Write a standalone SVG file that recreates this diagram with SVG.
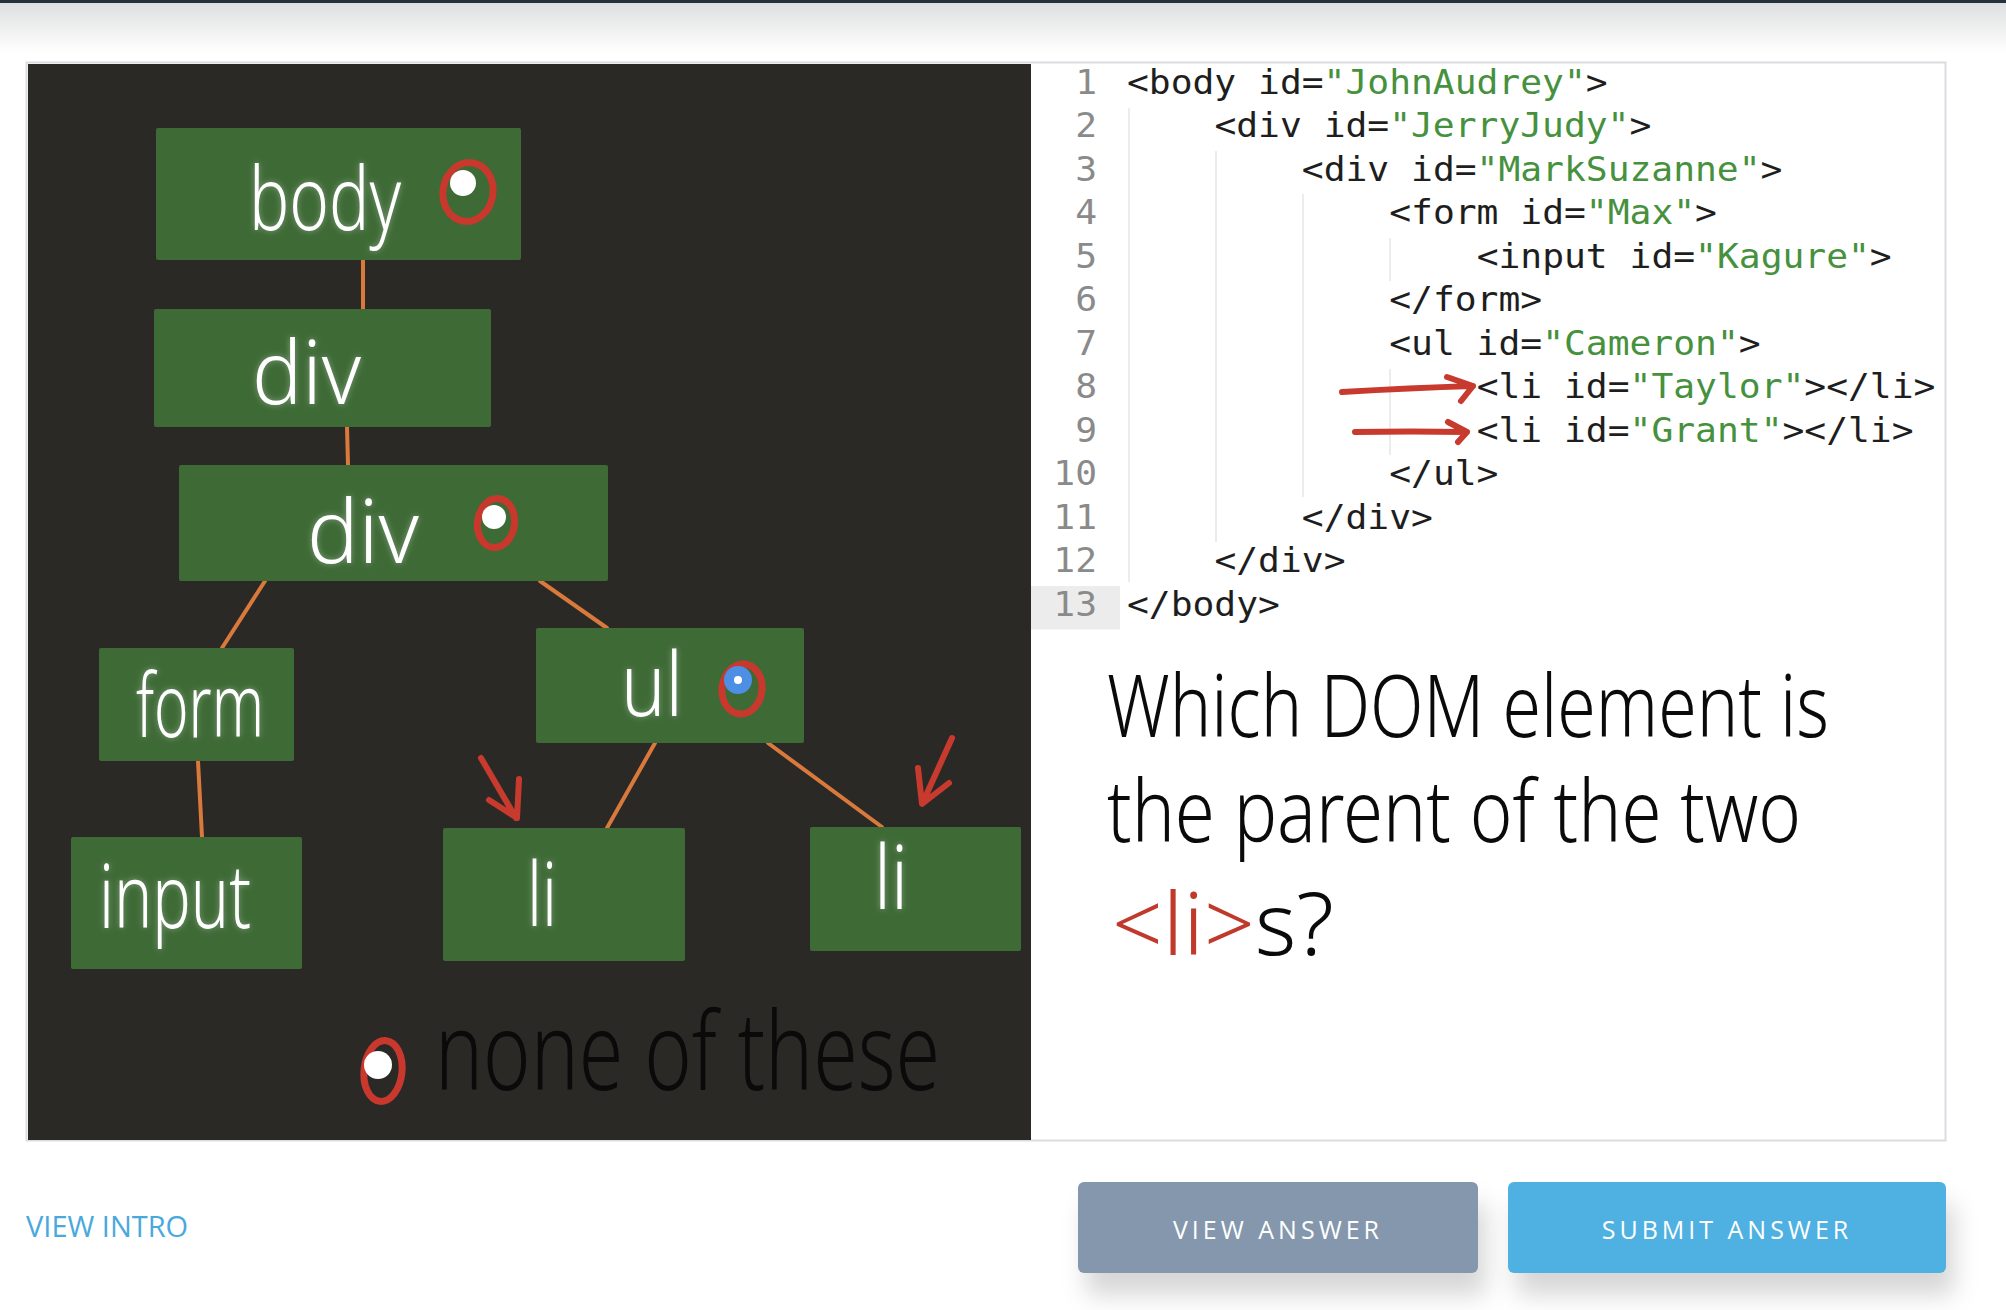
<svg xmlns="http://www.w3.org/2000/svg" width="2006" height="1310" viewBox="0 0 2006 1310">
  <defs>
    <linearGradient id="hdr" x1="0" y1="0" x2="0" y2="1">
      <stop offset="0" stop-color="#dedfe0"/>
      <stop offset="1" stop-color="#ffffff"/>
    </linearGradient>
    <filter id="glow" x="-20%" y="-20%" width="140%" height="140%">
      <feGaussianBlur in="SourceAlpha" stdDeviation="3" result="b"/>
      <feFlood flood-color="#ffffff" flood-opacity="0.35"/>
      <feComposite in2="b" operator="in" result="g"/>
      <feMerge><feMergeNode in="g"/><feMergeNode in="SourceGraphic"/></feMerge>
    </filter>
    <filter id="btnshadow" x="-10%" y="-20%" width="125%" height="190%">
      <feDropShadow dx="8" dy="22" stdDeviation="12" flood-color="#000" flood-opacity="0.16"/>
    </filter>
  </defs>
  <style>
    .box { fill: #3e6a36; }
    .conn { stroke: #d9793c; stroke-width: 4; fill: none; stroke-linecap: round; }
    .hand { font-family: "Noto Sans", "DejaVu Sans", sans-serif; font-weight: 300; }
    .lbl { fill: #ffffff; font-size: 88px; }
    .ring { fill: none; stroke: #c9382d; stroke-width: 7; }
    .dot { fill: #ffffff; }
    .redpen { stroke: #c83a2e; stroke-width: 6; fill: none; stroke-linecap: round; stroke-linejoin: round; }
    .code { font-family: "DejaVu Sans Mono", "Liberation Mono", monospace; font-size: 33px; fill: #1e1e1e; }
    .str { fill: #46913d; }
    .num { font-family: "DejaVu Sans Mono", "Liberation Mono", monospace; font-size: 33px; fill: #8a8a8a; text-anchor: end; }
    .guide { stroke: #e6e6e6; stroke-width: 1.5; }
    .btntxt { font-family: "Open Sans", "Liberation Sans", sans-serif; font-size: 25px; fill: #ffffff; letter-spacing: 4px; text-anchor: middle; }
  </style>

  <!-- page background -->
  <rect x="0" y="0" width="2006" height="1310" fill="#ffffff"/>
  <rect x="0" y="3" width="2006" height="50" fill="url(#hdr)"/>
  <rect x="0" y="0" width="2006" height="3" fill="#26313b"/>

  <!-- panels -->
  <rect x="26.5" y="62.5" width="1919" height="1078" fill="#ffffff" stroke="#d9dde1" stroke-width="2"/>
  <rect x="28" y="64" width="1003" height="1076" fill="#2b2926"/>

  <!-- connectors -->
  <g id="connectors">
    <line class="conn" x1="363" y1="260" x2="363" y2="309"/>
    <line class="conn" x1="347" y1="427" x2="348" y2="465"/>
    <line class="conn" x1="265" y1="581" x2="222" y2="648"/>
    <line class="conn" x1="540" y1="581" x2="607" y2="628"/>
    <line class="conn" x1="198" y1="761" x2="202" y2="837"/>
    <line class="conn" x1="655" y1="743" x2="607" y2="828"/>
    <line class="conn" x1="768" y1="743" x2="882" y2="827"/>
  </g>

  <!-- nodes -->
  <g id="node-body">
    <rect class="box" x="156" y="128" width="365" height="132" rx="2"/>
    <text class="hand lbl" x="249" y="230" textLength="152" lengthAdjust="spacingAndGlyphs" filter="url(#glow)">body</text>
    <ellipse class="ring" cx="468" cy="192" rx="25" ry="29.5" transform="rotate(10 468 192)"/>
    <circle class="dot" cx="463" cy="183" r="13"/>
  </g>
  <g id="node-div1">
    <rect class="box" x="154" y="309" width="337" height="118" rx="2"/>
    <text class="hand lbl" x="252" y="404" textLength="109" lengthAdjust="spacingAndGlyphs" filter="url(#glow)">div</text>
  </g>
  <g id="node-div2">
    <rect class="box" x="179" y="465" width="429" height="116" rx="2"/>
    <text class="hand lbl" x="307" y="563" textLength="112" lengthAdjust="spacingAndGlyphs" filter="url(#glow)">div</text>
    <ellipse class="ring" cx="496" cy="523" rx="18.5" ry="24.5" transform="rotate(8 496 523)"/>
    <circle class="dot" cx="494" cy="517" r="12"/>
  </g>
  <g id="node-form">
    <rect class="box" x="99" y="648" width="195" height="113" rx="2"/>
    <text class="hand lbl" x="136" y="737" textLength="128" lengthAdjust="spacingAndGlyphs" filter="url(#glow)">form</text>
  </g>
  <g id="node-ul">
    <rect class="box" x="536" y="628" width="268" height="115" rx="2"/>
    <text class="hand lbl" x="621" y="716" textLength="62" lengthAdjust="spacingAndGlyphs" filter="url(#glow)">ul</text>
    <ellipse class="ring" cx="742" cy="689" rx="20" ry="25" transform="rotate(8 742 689)"/>
    <circle cx="738" cy="680" r="14" fill="#4c8fe4"/>
    <circle class="dot" cx="738" cy="680" r="4"/>
  </g>
  <g id="node-input">
    <rect class="box" x="71" y="837" width="231" height="132" rx="2"/>
    <text class="hand lbl" x="99" y="928" textLength="152" lengthAdjust="spacingAndGlyphs" filter="url(#glow)">input</text>
  </g>
  <g id="node-li1">
    <rect class="box" x="443" y="828" width="242" height="133" rx="2"/>
    <text class="hand lbl" x="527" y="926" textLength="30" lengthAdjust="spacingAndGlyphs" filter="url(#glow)">li</text>
  </g>
  <g id="node-li2">
    <rect class="box" x="810" y="827" width="211" height="124" rx="2"/>
    <text class="hand lbl" x="874" y="909" textLength="34" lengthAdjust="spacingAndGlyphs" filter="url(#glow)">li</text>
  </g>
  <g id="option-none">
    <ellipse class="ring" cx="383" cy="1071" rx="19" ry="30.5" transform="rotate(6 383 1071)"/>
    <circle class="dot" cx="378" cy="1065" r="14"/>
    <text class="hand" x="435" y="1090" font-size="108" font-weight="400" fill="#0a0a0a" textLength="505" lengthAdjust="spacingAndGlyphs">none of these</text>
  </g>

  <!-- red annotation arrows (left panel) -->
  <g id="annot-left">
    <path class="redpen" d="M481 758 L516 818 M519 779 L517 818 L489 800"/>
    <path class="redpen" d="M952 738 L923 802 M918 768 L922 804 L949 783"/>
  </g>

  <!-- code panel -->
  <g id="code">
    <rect x="1031" y="586" width="89" height="43.5" fill="#ececec"/>
    <line class="guide" x1="1129" y1="108" x2="1129" y2="582"/>
    <line class="guide" x1="1216" y1="151" x2="1216" y2="542"/>
    <line class="guide" x1="1303" y1="194" x2="1303" y2="497"/>
    <line class="guide" x1="1390" y1="238" x2="1390" y2="281"/>
    <line class="guide" x1="1390" y1="369" x2="1390" y2="455"/>
    <g transform="translate(1097,0) scale(1.1,1)">
      <text class="num" x="0" y="94">1</text>
      <text class="num" x="0" y="137.5">2</text>
      <text class="num" x="0" y="181">3</text>
      <text class="num" x="0" y="224.5">4</text>
      <text class="num" x="0" y="268">5</text>
      <text class="num" x="0" y="311.5">6</text>
      <text class="num" x="0" y="355">7</text>
      <text class="num" x="0" y="398.5">8</text>
      <text class="num" x="0" y="442">9</text>
      <text class="num" x="0" y="485.5">10</text>
      <text class="num" x="0" y="529">11</text>
      <text class="num" x="0" y="572.5">12</text>
      <text class="num" x="0" y="616">13</text>
    </g>
    <g transform="translate(1127,0) scale(1.1,1)">
      <text class="code" x="0" y="94">&lt;body id=<tspan class="str">"JohnAudrey"</tspan>&gt;</text>
      <text class="code" x="79.47" y="137.5">&lt;div id=<tspan class="str">"JerryJudy"</tspan>&gt;</text>
      <text class="code" x="158.94" y="181">&lt;div id=<tspan class="str">"MarkSuzanne"</tspan>&gt;</text>
      <text class="code" x="238.41" y="224.5">&lt;form id=<tspan class="str">"Max"</tspan>&gt;</text>
      <text class="code" x="317.88" y="268">&lt;input id=<tspan class="str">"Kagure"</tspan>&gt;</text>
      <text class="code" x="238.41" y="311.5">&lt;/form&gt;</text>
      <text class="code" x="238.41" y="355">&lt;ul id=<tspan class="str">"Cameron"</tspan>&gt;</text>
      <text class="code" x="317.88" y="398.5">&lt;li id=<tspan class="str">"Taylor"</tspan>&gt;&lt;/li&gt;</text>
      <text class="code" x="317.88" y="442">&lt;li id=<tspan class="str">"Grant"</tspan>&gt;&lt;/li&gt;</text>
      <text class="code" x="238.41" y="485.5">&lt;/ul&gt;</text>
      <text class="code" x="158.94" y="529">&lt;/div&gt;</text>
      <text class="code" x="79.47" y="572.5">&lt;/div&gt;</text>
      <text class="code" x="0" y="616">&lt;/body&gt;</text>
    </g>
  </g>

  <!-- red annotation arrows (code) -->
  <g id="annot-code">
    <path class="redpen" d="M1342 392 Q1410 388 1473 386 M1447 377 L1473 386 L1461 401"/>
    <path class="redpen" d="M1355 432 Q1410 431 1467 432 M1448 422 L1467 432 L1458 442"/>
  </g>

  <!-- question -->
  <g id="question" class="hand">
    <text x="1107" y="737" font-size="86" fill="#0a0a0a" textLength="722" lengthAdjust="spacingAndGlyphs">Which DOM element is</text>
    <text x="1107" y="842" font-size="86" fill="#0a0a0a" textLength="694" lengthAdjust="spacingAndGlyphs">the parent of the two</text>
    <text x="1112" y="955" font-size="86" fill="#0a0a0a" textLength="222" lengthAdjust="spacingAndGlyphs"><tspan fill="#c0392b">&lt;li&gt;</tspan>s?</text>
  </g>

  <!-- footer -->
  <g id="link-view-intro">
    <text x="26" y="1237" font-family="'Open Sans', 'Liberation Sans', sans-serif" font-size="29" fill="#4aa9dc">VIEW INTRO</text>
  </g>
  <g id="btn-view-answer">
    <rect x="1078" y="1182" width="400" height="91" rx="6" fill="#8497ad" filter="url(#btnshadow)"/>
    <text class="btntxt" x="1278" y="1239">VIEW ANSWER</text>
  </g>
  <g id="btn-submit-answer">
    <rect x="1508" y="1182" width="438" height="91" rx="6" fill="#4fb1e1" filter="url(#btnshadow)"/>
    <text class="btntxt" x="1727" y="1239">SUBMIT ANSWER</text>
  </g>
</svg>
